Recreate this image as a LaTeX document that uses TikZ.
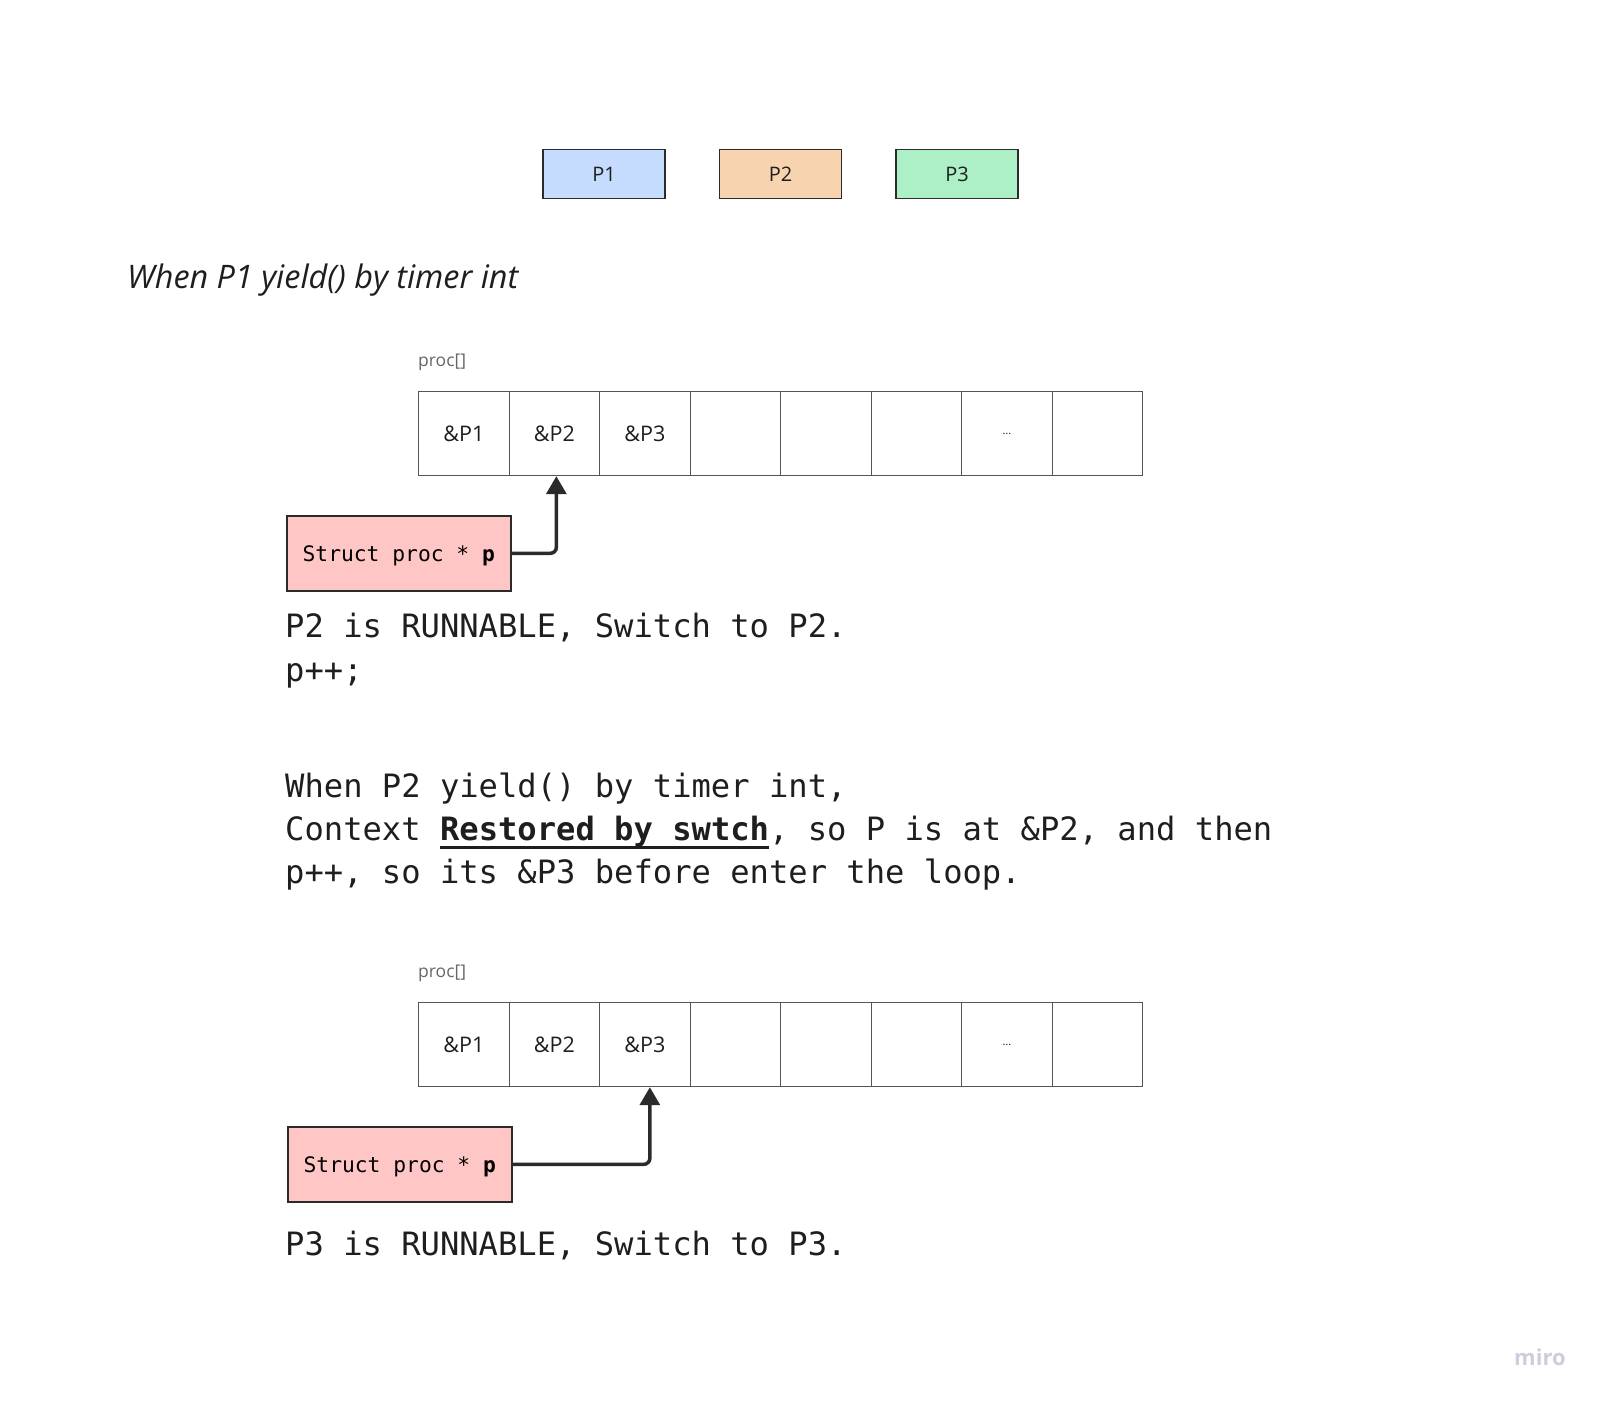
\documentclass[tikz,border=0pt]{standalone}
\usepackage{fontspec}
\setmainfont{Open Sans}
\setmonofont{DejaVu Sans Mono}
\usetikzlibrary{arrows.meta,positioning}

\definecolor{pone}{HTML}{C6DCFF}
\definecolor{ptwo}{HTML}{F8D3AF}
\definecolor{pthree}{HTML}{ADF0C7}
\definecolor{ptrfill}{HTML}{FFC6C6}
\definecolor{edge}{HTML}{2B2B2B}
\definecolor{cellline}{HTML}{555555}
\definecolor{proclbl}{HTML}{666666}
\definecolor{codetext}{HTML}{1E1E1E}
\definecolor{mirogrey}{HTML}{CDCDDC}

% thick underline for the bold phrase
\newcommand{\thickul}[1]{\setbox0\hbox{#1}\rlap{\rule[-8.5pt]{\wd0}{3pt}}\box0}

\tikzset{
  procbox/.style={draw=edge, line width=1.6pt, minimum width=122pt, minimum height=49pt,
    inner sep=0pt, text=codetext, font=\fontsize{20}{24}\selectfont},
  cell/.style={draw=cellline, line width=1.2pt, minimum width=90.5pt, minimum height=84pt,
    inner sep=0pt, anchor=north west, text=codetext, font=\fontsize{21.5}{25}\selectfont},
  ptrbox/.style={draw=edge, fill=ptrfill, line width=1.6pt, minimum width=224pt,
    minimum height=75pt, inner sep=0pt, anchor=north west, text height=18pt, text depth=1.5pt,
    font=\ttfamily\fontsize{21.3}{24}\selectfont},
  codeline/.style={anchor=base west, inner sep=0pt, text=codetext,
    font=\ttfamily\fontsize{32.15}{44}\selectfont},
  arrlbl/.style={anchor=base west, inner sep=0pt, text=proclbl,
    font=\fontsize{17.5}{20}\selectfont},
  ptrarrow/.style={line width=3.5pt, draw=edge, rounded corners=6pt,
    -{Triangle[width=20pt,length=18pt]}}
}

\begin{document}
\begin{tikzpicture}[x=1pt,y=-1pt]
\useasboundingbox (0,0) rectangle (1603,1403);

% processes
\node[procbox, fill=pone]   (p1) at (604,174)   {P1};
\node[procbox, fill=ptwo]   (p2) at (780.5,174) {P2};
\node[procbox, fill=pthree] (p3) at (957,174)   {P3};

\node[anchor=base west, inner sep=0pt, font=\itshape\fontsize{32.4}{38}\selectfont, text=codetext]
  (title) at (127,288) {When P1 yield() by timer int};

% first proc[] array
\node[arrlbl] (lbla) at (418,366) {proc[]};
\foreach \i/\txt in {1/\&P1,2/\&P2,3/\&P3,4/,5/,6/,7/{\fontsize{11}{12}\selectfont …},8/}
  \node[cell] (a\i) at ({418+(\i-1)*90.5},391) {\txt};

\node[ptrbox] (sp1) at (286,515) {Struct proc * \textbf{p}};
\draw[ptrarrow] (sp1.east) -| ([xshift=2pt]a2.south);

\node[codeline] (ta) at (285,637) {P2 is RUNNABLE, Switch to P2.};
\node[codeline] (tb) at (285,681) {p++;};

\node[codeline] (tc) at (285,797) {When P2 yield() by timer int,};
\node[codeline] (td) at (285,840) {Context \thickul{\textbf{Restored by swtch}}, so P is at \&P2, and then};
\node[codeline] (te) at (285,883) {p++, so its \&P3 before enter the loop.};

% second proc[] array
\node[arrlbl] (lblb) at (418,977) {proc[]};
\foreach \i/\txt in {1/\&P1,2/\&P2,3/\&P3,4/,5/,6/,7/{\fontsize{11}{12}\selectfont …},8/}
  \node[cell] (b\i) at ({418+(\i-1)*90.5},1002) {\txt};

\node[ptrbox] (sp2) at (287,1126) {Struct proc * \textbf{p}};
\draw[ptrarrow] (sp2.east) -| ([xshift=5pt]b3.south);

\node[codeline] (tf) at (285,1255) {P3 is RUNNABLE, Switch to P3.};

\node[anchor=base west, inner sep=0pt, text=mirogrey, font=\bfseries\fontsize{22}{24}\selectfont]
  (miro) at (1514,1365) {miro};
\end{tikzpicture}
\end{document}
